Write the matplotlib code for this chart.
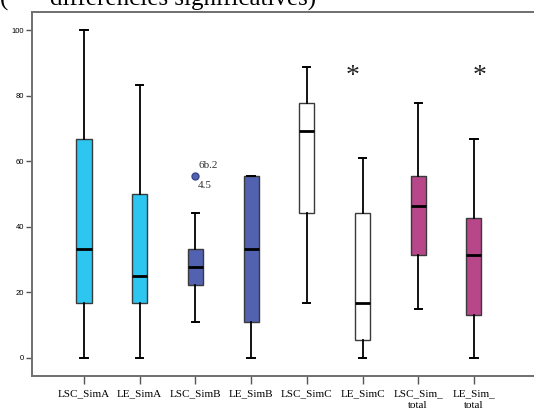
import matplotlib
matplotlib.use("Agg")
import matplotlib.pyplot as plt

# Five-number summaries per variable
categories = ["LSC_SimA", "LE_SimA", "LSC_SimB", "LE_SimB",
              "LSC_SimC", "LE_SimC", "LSC_Sim_\ntotal", "LE_Sim_\ntotal"]
whisker_low = [0.0, 0.0, 11.1, 0.0, 16.7, 0.0, 14.8, 0.0]
q1 = [16.7, 16.7, 22.2, 11.1, 44.4, 5.6, 31.5, 13.0]
median = [33.3, 25.0, 27.8, 33.3, 69.4, 16.7, 46.3, 31.5]
q3 = [66.7, 50.0, 33.3, 55.6, 77.8, 44.4, 55.6, 42.6]
whisker_high = [100.0, 83.3, 44.4, 55.6, 88.9, 61.1, 77.8, 66.7]
outliers = [[], [], [55.6], [], [], [], [], []]
outlier_labels = ["6b.2", "4.5"]
star_x = [5.83, 8.11]
star_y = 86.0

colors = ["#2cc6f1", "#2cc6f1", "#5262b1", "#5262b1",
          "#ffffff", "#ffffff", "#b8478a", "#b8478a"]

W, H = 534, 408
fig = plt.figure(figsize=(W / 100, H / 100), dpi=100)

# axes frame: left spine at x=32 px, bottom at 376 px, top at 12 px; right edge runs off the figure
left_px, bottom_px, top_px = 32, 376, 12
ax = fig.add_axes([left_px / W, 1 - bottom_px / H, 1.2, (bottom_px - top_px) / H])

positions = list(range(1, len(categories) + 1))
stats = []
for i, name in enumerate(categories):
    stats.append(dict(label=name, whislo=whisker_low[i], q1=q1[i], med=median[i],
                      q3=q3[i], whishi=whisker_high[i], fliers=outliers[i]))

bp = ax.bxp(stats, positions=positions, widths=0.27, capwidths=0.13,
            patch_artist=True, manage_ticks=False,
            boxprops=dict(edgecolor="#3a3a3a", linewidth=1.0),
            medianprops=dict(color="black", linewidth=2.0),
            whiskerprops=dict(color="black", linewidth=1.3),
            capprops=dict(color="black", linewidth=1.4),
            flierprops=dict(marker="o", markerfacecolor="#5262b1",
                            markeredgecolor="#3a4490", markersize=5))
for patch, c in zip(bp["boxes"], colors):
    patch.set_facecolor(c)

# case labels next to the outlier
serif = ["Liberation Serif", "DejaVu Serif"]
for i, outs in enumerate(outliers):
    for v in outs:
        ax.annotate(outlier_labels[0], (positions[i], v), xytext=(2, 4),
                    textcoords="offset points", fontsize=8, family=serif,
                    color="#333333", va="bottom", ha="left")
        ax.annotate(outlier_labels[1], (positions[i], v), xytext=(2, -4),
                    textcoords="offset points", fontsize=8, family=serif,
                    color="#333333", va="top", ha="left")

# asterisks marking significant differences
for sx in star_x:
    ax.text(sx, star_y, "*", fontsize=20, family=serif, ha="center",
            va="center", color="#222222")

ax.set_ylim(-5.5, 105.6)
px_per_x = 55.7
x_left = 1 - (84 - left_px) / px_per_x
x_right = x_left + 1.2 * W / px_per_x
ax.set_xlim(x_left, x_right)

ax.set_yticks([0, 20, 40, 60, 80, 100])
ax.set_yticklabels(["0", "20", "40", "60", "80", "100"],
                   fontsize=5.5, family=["Liberation Sans", "DejaVu Sans"])
ax.set_xticks(positions)
ax.set_xticklabels(categories, fontsize=8, family=serif, linespacing=1.45)
ax.tick_params(axis="y", length=4.5, width=1.0, color="#555555", pad=1)
ax.tick_params(axis="x", length=5.5, width=1.0, color="#555555", pad=4)

for side in ["left", "bottom", "top"]:
    ax.spines[side].set_color("#6f6f6f")
    ax.spines[side].set_linewidth(1.4)
ax.spines["right"].set_visible(False)

# heading text running above the frame
fig.text(0 / W, 1 - 6 / H, "(", fontsize=18, family=serif, va="baseline", ha="left")
fig.text(50 / W, 1 - 6 / H, "différencies significatives)", fontsize=18,
         family=serif, va="baseline", ha="left")

fig.savefig("out.png", dpi=100)
